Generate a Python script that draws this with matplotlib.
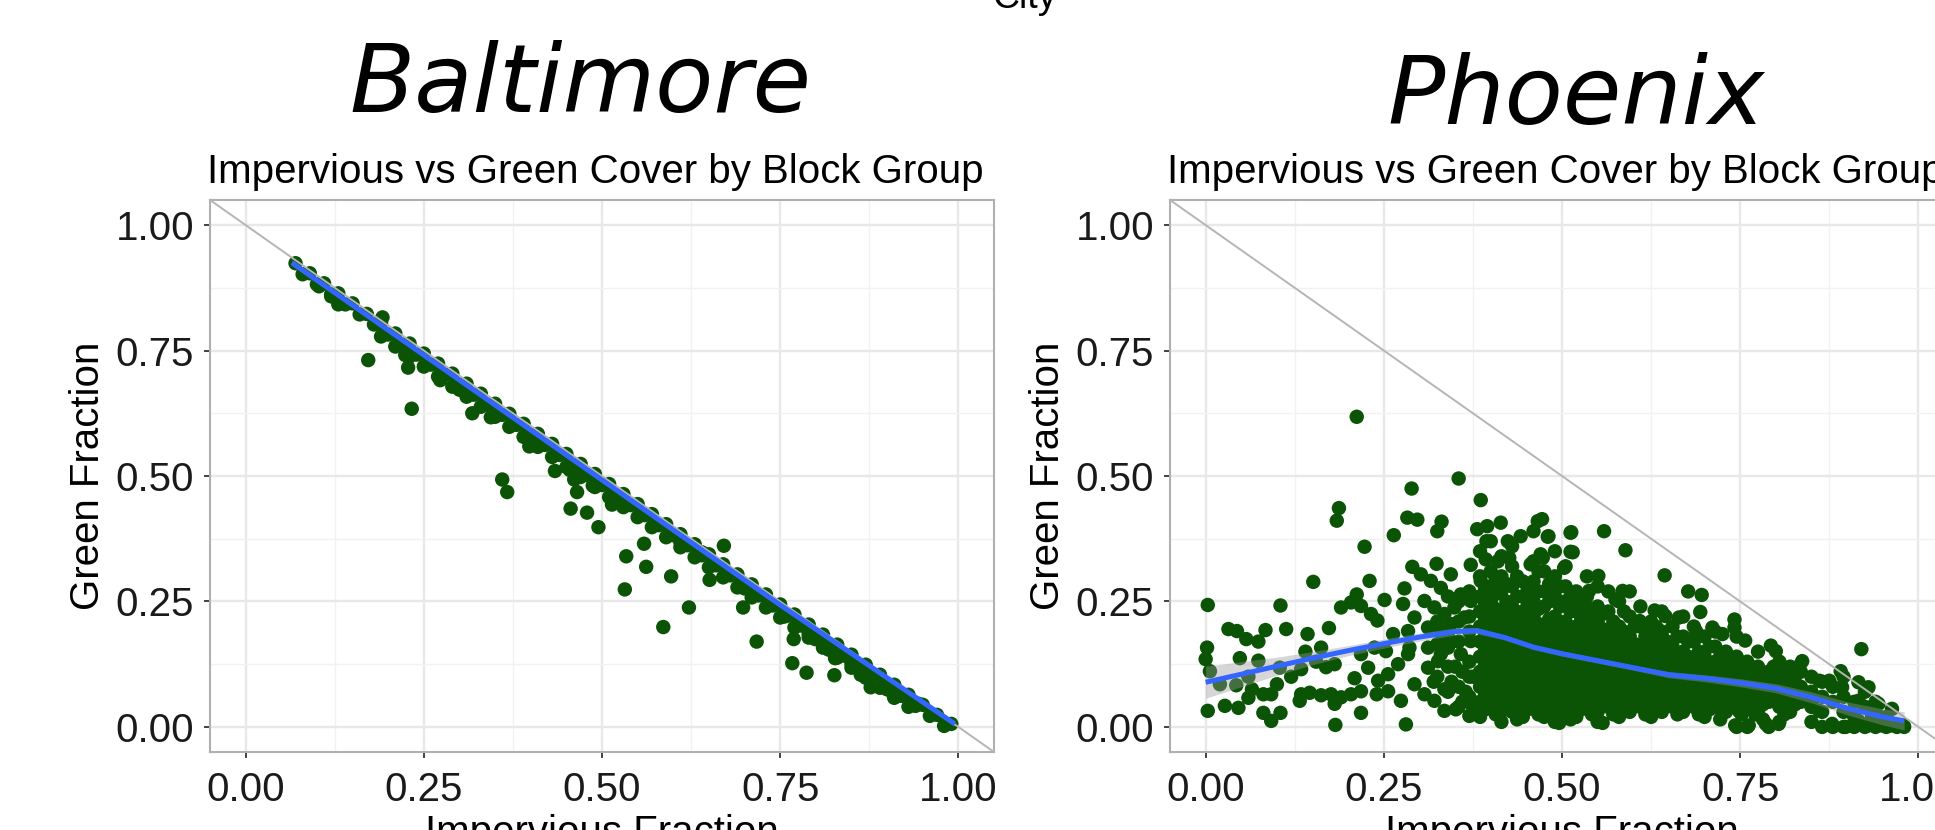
import matplotlib
matplotlib.use("Agg")
import matplotlib.pyplot as plt
from matplotlib.ticker import MultipleLocator

# ---------------- data ----------------
ticks = [0.00, 0.25, 0.50, 0.75, 1.00]
tick_labels = ["0.00", "0.25", "0.50", "0.75", "1.00"]
cities = ["Baltimore", "Phoenix"]
subtitle = "Impervious vs Green Cover by Block Group"

# Baltimore: dense band along the diagonal (three rows) + points below it
bal_band_ax = [0.07, 0.09, 0.11, 0.13, 0.15, 0.17, 0.19, 0.21, 0.23, 0.25, 0.27, 0.29, 0.31, 0.33,
               0.35, 0.37, 0.39, 0.41, 0.43, 0.45, 0.47, 0.49, 0.51, 0.53, 0.55, 0.57, 0.59, 0.61,
               0.63, 0.65, 0.67, 0.69, 0.71, 0.73, 0.75, 0.77, 0.79, 0.81, 0.83, 0.85, 0.87, 0.89,
               0.91, 0.93, 0.95, 0.97, 0.99]
bal_band_ay = [0.924, 0.904, 0.884, 0.864, 0.844, 0.823, 0.804, 0.784, 0.764, 0.744, 0.724, 0.704,
               0.684, 0.664, 0.644, 0.624, 0.604, 0.584, 0.564, 0.544, 0.524, 0.504, 0.484, 0.464,
               0.444, 0.424, 0.404, 0.384, 0.364, 0.344, 0.324, 0.304, 0.284, 0.264, 0.244, 0.224,
               0.204, 0.184, 0.164, 0.144, 0.124, 0.104, 0.084, 0.064, 0.044, 0.024, 0.006]
bal_band_bx = [0.08, 0.10, 0.12, 0.14, 0.16, 0.18, 0.20, 0.22, 0.24, 0.26, 0.28, 0.30, 0.32, 0.34,
               0.36, 0.38, 0.40, 0.42, 0.44, 0.46, 0.48, 0.50, 0.52, 0.54, 0.56, 0.58, 0.60, 0.62,
               0.64, 0.66, 0.68, 0.70, 0.72, 0.74, 0.76, 0.78, 0.80, 0.82, 0.84, 0.86, 0.88, 0.90,
               0.92, 0.94, 0.96, 0.98]
bal_band_by = [0.902, 0.882, 0.862, 0.842, 0.822, 0.802, 0.782, 0.762, 0.742, 0.722, 0.702, 0.682,
               0.662, 0.642, 0.622, 0.602, 0.582, 0.562, 0.542, 0.522, 0.502, 0.482, 0.462, 0.442,
               0.422, 0.402, 0.382, 0.362, 0.342, 0.322, 0.302, 0.282, 0.262, 0.242, 0.222, 0.202,
               0.182, 0.162, 0.142, 0.122, 0.102, 0.082, 0.062, 0.042, 0.022, 0.002]
bal_band_cx = [0.13, 0.19, 0.21, 0.23, 0.25, 0.27, 0.29, 0.31, 0.33, 0.35, 0.37, 0.39, 0.41, 0.43,
               0.45, 0.47, 0.49, 0.51, 0.53, 0.55, 0.57, 0.59, 0.61, 0.63, 0.65, 0.67, 0.69, 0.71,
               0.73, 0.75, 0.77, 0.79, 0.81, 0.83, 0.85, 0.87, 0.89, 0.91, 0.93]
bal_band_cy = [0.842, 0.778, 0.758, 0.738, 0.718, 0.698, 0.678, 0.658, 0.638, 0.618, 0.598, 0.578,
               0.558, 0.538, 0.518, 0.498, 0.478, 0.458, 0.438, 0.418, 0.398, 0.378, 0.358, 0.338,
               0.318, 0.298, 0.278, 0.258, 0.238, 0.218, 0.198, 0.178, 0.158, 0.138, 0.118, 0.098,
               0.078, 0.058, 0.040]
bal_out_x = [0.172, 0.233, 0.224, 0.228, 0.360, 0.367, 0.398, 0.318, 0.344, 0.456, 0.479, 0.495,
             0.487, 0.461, 0.465, 0.532, 0.534, 0.559, 0.562, 0.597, 0.586, 0.622, 0.651, 0.698,
             0.717, 0.767, 0.787, 0.769, 0.799, 0.826, 0.827, 0.877, 0.756, 0.818, 0.863, 0.944,
             0.640, 0.514, 0.434, 0.273, 0.192, 0.103, 0.130, 0.908, 0.671, 0.729, 0.120, 0.300,
             0.410, 0.455, 0.520, 0.610, 0.700, 0.790, 0.850, 0.900]
bal_out_y = [0.731, 0.634, 0.741, 0.716, 0.493, 0.468, 0.559, 0.625, 0.617, 0.435, 0.427, 0.398,
             0.481, 0.493, 0.468, 0.274, 0.340, 0.365, 0.319, 0.300, 0.199, 0.238, 0.293, 0.238,
             0.170, 0.127, 0.108, 0.175, 0.175, 0.103, 0.137, 0.079, 0.220, 0.154, 0.104, 0.046,
             0.348, 0.443, 0.510, 0.691, 0.816, 0.878, 0.849, 0.067, 0.361, 0.261, 0.858, 0.672,
             0.566, 0.512, 0.455, 0.368, 0.276, 0.185, 0.126, 0.075]
bal_fit_x = [0.065, 0.25, 0.50, 0.75, 0.995]
bal_fit_y = [0.925, 0.741, 0.492, 0.243, 0.006]
bal_fit_lo = [0.919, 0.738, 0.489, 0.240, 0.001]
bal_fit_hi = [0.931, 0.744, 0.495, 0.246, 0.011]

# Phoenix: scattered points
phx_x = [0.212, 0.355, 0.289, 0.386, 0.187, 0.184, 0.283, 0.297, 0.331, 0.325, 0.264, 0.223, 0.151,
         0.230, 0.003, 0.105, 0.212, 0.279, 0.290, 0.324, 0.372, 0.381, 0.395, 0.414, 0.394, 0.466,
         0.480, 0.424, 0.442, 0.512, 0.512, 0.470, 0.393, 0.410, 0.426, 0.456,
         0.032, 0.044, 0.057, 0.074, 0.084, 0.113, 0.143, 0.173,
         0.190, 0.204, 0.218, 0.232, 0.241, 0.251, 0.277, 0.263, 0.284,
         0.002, 0.000, 0.048, 0.074, 0.006, 0.104, 0.134, 0.162, 0.169, 0.181, 0.043,
         0.003, 0.027, 0.046, 0.060, 0.081, 0.092, 0.081, 0.092, 0.105,
         0.134, 0.146, 0.162, 0.176, 0.190, 0.204, 0.218, 0.132, 0.181, 0.218, 0.182, 0.281,
         0.209, 0.228, 0.242, 0.256, 0.270, 0.284, 0.218, 0.237, 0.253,
         0.293, 0.307, 0.321, 0.335, 0.351, 0.370, 0.274, 0.240, 0.256,
         0.312, 0.326, 0.340, 0.358, 0.372,
         0.302, 0.316, 0.330, 0.344, 0.358, 0.372, 0.386,
         0.307, 0.321, 0.335, 0.349, 0.363,
         0.293, 0.312, 0.330, 0.344,
         0.286, 0.312, 0.330,
         0.345, 0.360, 0.365, 0.350, 0.375, 0.320, 0.335, 0.360, 0.375, 0.020, 0.065, 0.140,
         0.155, 0.120, 0.100, 0.060,
         0.472, 0.481, 0.513, 0.559, 0.515, 0.589, 0.473, 0.503, 0.551, 0.644, 0.677, 0.696,
         0.694, 0.742, 0.742, 0.630, 0.645, 0.664, 0.538, 0.585, 0.575, 0.520, 0.609, 0.627,
         0.641, 0.688, 0.711, 0.725, 0.757, 0.793, 0.920, 0.837, 0.828, 0.891, 0.861, 0.875,
         0.916, 0.930, 0.893, 0.748, 0.762, 0.776, 0.800, 0.804, 0.814, 0.795, 0.814, 0.809,
         0.743, 0.762, 0.786, 0.804, 0.748, 0.771, 0.861, 0.879, 0.898, 0.916, 0.930, 0.949,
         0.963, 0.979, 0.944, 0.963, 0.916, 0.851, 0.935, 0.496, 0.557, 0.473, 0.609, 0.632,
         0.665]
phx_y = [0.618, 0.495, 0.475, 0.452, 0.436, 0.411, 0.417, 0.413, 0.409, 0.390, 0.382, 0.359, 0.289,
         0.291, 0.243, 0.242, 0.264, 0.276, 0.319, 0.325, 0.323, 0.394, 0.400, 0.407, 0.370, 0.410,
         0.379, 0.370, 0.380, 0.387, 0.349, 0.344, 0.334, 0.330, 0.337, 0.324,
         0.195, 0.191, 0.175, 0.170, 0.193, 0.195, 0.185, 0.197,
         0.238, 0.248, 0.241, 0.225, 0.212, 0.253, 0.245, 0.185, 0.191,
         0.158, 0.135, 0.137, 0.132, 0.111, 0.118, 0.115, 0.158, 0.119, 0.125, 0.083,
         0.032, 0.042, 0.038, 0.058, 0.065, 0.065, 0.028, 0.012, 0.028,
         0.065, 0.068, 0.063, 0.065, 0.059, 0.065, 0.071, 0.052, 0.046, 0.028, 0.004, 0.005,
         0.097, 0.118, 0.092, 0.105, 0.125, 0.145, 0.145, 0.158, 0.151,
         0.085, 0.065, 0.052, 0.032, 0.035, 0.022, 0.052, 0.065, 0.071,
         0.118, 0.131, 0.158, 0.145, 0.171,
         0.304, 0.291, 0.277, 0.304, 0.264, 0.251, 0.291,
         0.251, 0.238, 0.225, 0.238, 0.218,
         0.218, 0.198, 0.191, 0.205,
         0.158, 0.158, 0.145,
         0.090, 0.110, 0.070, 0.120, 0.100, 0.090, 0.075, 0.050, 0.040, 0.085, 0.075, 0.150,
         0.130, 0.100, 0.085, 0.100,
         0.414, 0.380, 0.388, 0.390, 0.348, 0.352, 0.337, 0.317, 0.301, 0.302, 0.270, 0.263,
         0.229, 0.214, 0.198, 0.232, 0.221, 0.218, 0.271, 0.271, 0.254, 0.251, 0.211, 0.191,
         0.178, 0.191, 0.198, 0.185, 0.172, 0.162, 0.155, 0.131, 0.118, 0.111, 0.092, 0.092,
         0.089, 0.079, 0.079, 0.131, 0.118, 0.111, 0.151, 0.125, 0.105, 0.092, 0.072, 0.039,
         0.003, 0.003, 0.006, 0.006, 0.032, 0.025, 0.032, 0.006, 0.000, 0.012, 0.003, 0.003,
         0.003, 0.003, 0.046, 0.036, 0.052, 0.052, 0.019, 0.008, 0.008, 0.025, 0.145, 0.132,
         0.145]

# Phoenix: dense core, listed column by column
phx_core_x = [0.325, 0.340, 0.355, 0.370,
              0.385, 0.400, 0.415, 0.430, 0.445, 0.460, 0.475, 0.490, 0.505, 0.520, 0.535, 0.550,
              0.565, 0.580, 0.595, 0.610, 0.625, 0.640, 0.655, 0.670, 0.685, 0.700, 0.715, 0.730,
              0.745, 0.760, 0.775, 0.790, 0.805, 0.820, 0.835, 0.850, 0.865, 0.880, 0.895, 0.910,
              0.925, 0.940, 0.955, 0.970, 0.980]
phx_core_y = [
    [0.100, 0.165, 0.210],
    [0.070, 0.120, 0.180, 0.260],
    [0.040, 0.080, 0.170, 0.210, 0.250],
    [0.060, 0.100, 0.130, 0.190, 0.220, 0.270],
    [0.02, 0.05, 0.08, 0.11, 0.14, 0.17, 0.20, 0.23, 0.26, 0.30, 0.35],
    [0.04, 0.07, 0.10, 0.13, 0.16, 0.19, 0.22, 0.25, 0.28, 0.31, 0.37],
    [0.01, 0.05, 0.08, 0.11, 0.14, 0.17, 0.20, 0.23, 0.27, 0.30, 0.34],
    [0.03, 0.06, 0.09, 0.12, 0.15, 0.18, 0.21, 0.24, 0.28, 0.32, 0.36],
    [0.02, 0.05, 0.08, 0.11, 0.14, 0.17, 0.20, 0.23, 0.26, 0.29],
    [0.04, 0.07, 0.10, 0.13, 0.16, 0.19, 0.22, 0.25, 0.29, 0.33, 0.39],
    [0.02, 0.05, 0.08, 0.11, 0.14, 0.17, 0.20, 0.24, 0.27, 0.31],
    [0.01, 0.04, 0.07, 0.10, 0.13, 0.16, 0.19, 0.22, 0.26, 0.30, 0.35],
    [0.03, 0.06, 0.09, 0.12, 0.15, 0.18, 0.21, 0.25, 0.28, 0.32],
    [0.02, 0.05, 0.08, 0.11, 0.14, 0.17, 0.20, 0.23, 0.27],
    [0.04, 0.07, 0.10, 0.13, 0.16, 0.19, 0.22, 0.26, 0.30],
    [0.01, 0.03, 0.06, 0.09, 0.12, 0.15, 0.18, 0.21, 0.24, 0.28],
    [0.04, 0.07, 0.10, 0.13, 0.16, 0.19, 0.23, 0.27],
    [0.02, 0.05, 0.08, 0.11, 0.14, 0.17, 0.20, 0.25],
    [0.03, 0.06, 0.09, 0.12, 0.15, 0.18, 0.22, 0.27],
    [0.04, 0.07, 0.10, 0.13, 0.16, 0.20, 0.24],
    [0.02, 0.05, 0.08, 0.11, 0.14, 0.17, 0.21],
    [0.03, 0.06, 0.09, 0.12, 0.15, 0.19, 0.23],
    [0.04, 0.07, 0.10, 0.13, 0.16, 0.20],
    [0.03, 0.06, 0.09, 0.12, 0.15, 0.18, 0.22],
    [0.04, 0.07, 0.10, 0.13, 0.17, 0.20],
    [0.02, 0.05, 0.08, 0.11, 0.14, 0.18],
    [0.04, 0.07, 0.10, 0.13, 0.16, 0.19],
    [0.03, 0.06, 0.09, 0.12, 0.15],
    [0.00, 0.05, 0.08, 0.11, 0.14, 0.18],
    [0.00, 0.04, 0.07, 0.10, 0.13],
    [0.03, 0.06, 0.09, 0.12, 0.15],
    [0.00, 0.05, 0.08, 0.11],
    [0.01, 0.04, 0.07, 0.10, 0.13],
    [0.03, 0.06, 0.09, 0.12],
    [0.05, 0.08, 0.11],
    [0.01, 0.04, 0.07, 0.10],
    [0.00, 0.03, 0.06, 0.09],
    [0.00, 0.05, 0.08],
    [0.00, 0.03, 0.06, 0.10],
    [0.00, 0.02, 0.05],
    [0.00, 0.04, 0.07],
    [0.00, 0.03, 0.05],
    [0.00, 0.02],
    [0.00],
    [0.00],
]
# Phoenix: second, staggered set of core columns (fills the gaps)
phx_core2_x = [0.392, 0.407, 0.422, 0.437, 0.452, 0.467, 0.482, 0.497, 0.512, 0.527, 0.542, 0.557,
               0.572, 0.587, 0.602, 0.617, 0.632, 0.647, 0.662, 0.677, 0.692, 0.707, 0.722, 0.737,
               0.752, 0.767, 0.782, 0.797, 0.812, 0.827]
phx_core2_y = [
    [0.035, 0.065, 0.095, 0.125, 0.155, 0.185, 0.215, 0.245, 0.275],
    [0.025, 0.055, 0.085, 0.115, 0.145, 0.175, 0.205, 0.235, 0.265, 0.295],
    [0.035, 0.065, 0.095, 0.125, 0.155, 0.185, 0.215, 0.250, 0.285],
    [0.015, 0.045, 0.075, 0.105, 0.135, 0.165, 0.195, 0.225, 0.260, 0.300],
    [0.035, 0.065, 0.095, 0.125, 0.155, 0.185, 0.215, 0.245, 0.275],
    [0.025, 0.055, 0.085, 0.115, 0.145, 0.175, 0.205, 0.235, 0.270, 0.310],
    [0.035, 0.065, 0.095, 0.125, 0.155, 0.185, 0.215, 0.250, 0.285],
    [0.025, 0.055, 0.085, 0.115, 0.145, 0.175, 0.205, 0.240, 0.280],
    [0.015, 0.045, 0.075, 0.105, 0.135, 0.165, 0.195, 0.230, 0.260],
    [0.035, 0.065, 0.095, 0.125, 0.155, 0.185, 0.215, 0.245],
    [0.025, 0.055, 0.085, 0.115, 0.145, 0.175, 0.205, 0.235],
    [0.045, 0.075, 0.105, 0.135, 0.165, 0.195, 0.225],
    [0.025, 0.055, 0.085, 0.115, 0.145, 0.175, 0.210],
    [0.035, 0.065, 0.095, 0.125, 0.155, 0.190, 0.230],
    [0.045, 0.075, 0.105, 0.135, 0.165, 0.200],
    [0.025, 0.055, 0.085, 0.115, 0.145, 0.180],
    [0.035, 0.065, 0.095, 0.125, 0.160, 0.200],
    [0.045, 0.075, 0.105, 0.135, 0.170],
    [0.025, 0.055, 0.085, 0.115, 0.145, 0.180],
    [0.045, 0.075, 0.105, 0.140, 0.170],
    [0.025, 0.055, 0.085, 0.115, 0.150],
    [0.035, 0.065, 0.095, 0.125, 0.160],
    [0.015, 0.055, 0.085, 0.115, 0.140],
    [0.045, 0.075, 0.105, 0.135],
    [0.025, 0.065, 0.095, 0.125],
    [0.055, 0.085, 0.115],
    [0.015, 0.045, 0.075, 0.100],
    [0.065, 0.095, 0.120],
    [0.025, 0.055, 0.085],
    [0.045, 0.075, 0.100],
]
phx_fit_x = [0.00, 0.05, 0.10, 0.15, 0.20, 0.25, 0.30, 0.35, 0.38, 0.42, 0.46, 0.50, 0.55, 0.60,
             0.65, 0.70, 0.75, 0.80, 0.85, 0.90, 0.95, 0.98]
phx_fit_y = [0.089, 0.105, 0.121, 0.137, 0.152, 0.166, 0.179, 0.190, 0.192, 0.178, 0.159, 0.146,
             0.132, 0.118, 0.104, 0.097, 0.088, 0.077, 0.059, 0.037, 0.020, 0.012]
phx_fit_lo = [0.057, 0.080, 0.103, 0.124, 0.142, 0.157, 0.171, 0.183, 0.186, 0.173, 0.154, 0.141,
              0.127, 0.113, 0.098, 0.090, 0.080, 0.068, 0.048, 0.024, 0.004, -0.006]
phx_fit_hi = [0.121, 0.130, 0.139, 0.150, 0.162, 0.175, 0.187, 0.197, 0.198, 0.183, 0.164, 0.151,
              0.137, 0.123, 0.110, 0.104, 0.096, 0.086, 0.070, 0.050, 0.036, 0.030]

# ---------------- style ----------------
W, H = 1935, 830
PT_GREEN = "#0b5406"
FIT_BLUE = "#3366FF"
SANS = ["Liberation Sans", "DejaVu Sans"]
FS = 29

fig = plt.figure(figsize=(W / 100, H / 100), dpi=100)


def px_axes(left, top, width, height):
    return fig.add_axes([left / W, 1 - (top + height) / H, width / W, height / H])


def style_axes(ax):
    ax.set_xlim(-0.05, 1.05)
    ax.set_ylim(-0.05, 1.05)
    ax.set_facecolor("white")
    ax.xaxis.set_minor_locator(MultipleLocator(0.125))
    ax.yaxis.set_minor_locator(MultipleLocator(0.125))
    ax.set_xticks(ticks)
    ax.set_xticklabels(tick_labels, fontfamily=SANS, fontsize=FS, color="#1a1a1a")
    ax.set_yticks(ticks)
    ax.set_yticklabels(tick_labels, fontfamily=SANS, fontsize=FS, color="#1a1a1a")
    ax.grid(which="major", color="#e8e8e8", lw=1.7, zorder=0)
    ax.grid(which="minor", color="#f2f2f2", lw=1.0, zorder=0)
    ax.set_axisbelow(True)
    ax.tick_params(which="major", length=4.5, width=1.3, color="#333333", pad=7)
    ax.tick_params(which="minor", length=0)
    ax.tick_params(axis="x", pad=9)
    for s in ax.spines.values():
        s.set_color("#b0b0b0")
        s.set_linewidth(1.5)
    ax.set_xlabel("Impervious Fraction", fontfamily=SANS, fontsize=FS, labelpad=4)
    ax.set_ylabel("Green Fraction", fontfamily=SANS, fontsize=FS, labelpad=6)
    # reference line y = 1 - x
    ax.plot([-0.05, 1.05], [1.05, -0.05], color="#b5b5b5", lw=1.4, zorder=3)


ax1 = px_axes(210, 200, 784, 552)
ax2 = px_axes(1170, 200, 784, 552)
style_axes(ax1)
style_axes(ax2)

MS = 108
# Baltimore
ax1.scatter(bal_band_ax + bal_band_bx + bal_band_cx + bal_out_x,
            bal_band_ay + bal_band_by + bal_band_cy + bal_out_y,
            s=MS, color=PT_GREEN, edgecolors="none", zorder=2)
ax1.fill_between(bal_fit_x, bal_fit_lo, bal_fit_hi, color="#999999", alpha=0.4, lw=0, zorder=4)
ax1.plot(bal_fit_x, bal_fit_y, color=FIT_BLUE, lw=3.6, zorder=5, solid_capstyle="butt")

# Phoenix
core_x = [cx for cx, ys in zip(phx_core_x, phx_core_y) for _ in ys]
core_y = [y for ys in phx_core_y for y in ys]
core2_x = [cx for cx, ys in zip(phx_core2_x, phx_core2_y) for _ in ys]
core2_y = [y for ys in phx_core2_y for y in ys]
ax2.scatter(phx_x + core_x + core2_x, phx_y + core_y + core2_y, s=MS, color=PT_GREEN,
            edgecolors="none", zorder=2)
ax2.fill_between(phx_fit_x, phx_fit_lo, phx_fit_hi, color="#999999", alpha=0.4, lw=0, zorder=4)
ax2.plot(phx_fit_x, phx_fit_y, color=FIT_BLUE, lw=3.6, zorder=5, solid_capstyle="butt")

# subtitles
for ax, left_px in ((ax1, 207), (ax2, 1167)):
    fig.text(left_px / W, 1 - 183 / H, subtitle, fontfamily=SANS, fontsize=FS,
             ha="left", va="baseline", color="black")

# big city names
fig.text(580 / W, 1 - 112 / H, cities[0], fontfamily="DejaVu Sans", style="oblique",
         fontsize=68.5, ha="center", va="baseline")
fig.text(1576 / W, 1 - 124 / H, cities[1], fontfamily="DejaVu Sans", style="oblique",
         fontsize=68.5, ha="center", va="baseline")

# top label (cropped at the top edge)
fig.text(1024 / W, 1 - 8 / H, "City", fontfamily=SANS, fontsize=27, ha="center", va="baseline")

fig.savefig("out.png", dpi=100)
